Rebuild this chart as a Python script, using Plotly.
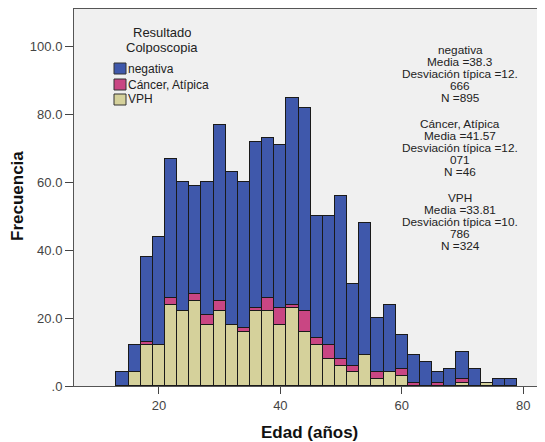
import plotly.graph_objects as go

# Bin centres (2-year bins from 13 to 79)
edad = [14, 16, 18, 20, 22, 24, 26, 28, 30, 32, 34, 36, 38, 40, 42, 44, 46,
        48, 50, 52, 54, 56, 58, 60, 62, 64, 66, 68, 70, 72, 74, 76, 78]
vph = [0, 4, 12, 12, 24, 22, 25, 18, 22, 18, 16, 22, 22, 18, 23, 16, 12,
       8, 6, 4, 9, 2, 4, 3, 0, 0, 0, 0, 1, 0, 1, 0, 0]
cancer = [0, 0, 1, 0, 2, 0, 2, 3, 3, 0, 1, 1, 4, 5, 1, 6, 2,
          4, 2, 2, 0, 2, 0, 2, 1, 0, 1, 0, 1, 0, 0, 0, 0]
negativa = [4, 8, 25, 32, 41, 38, 32, 39, 52, 45, 43, 49, 47, 48, 61, 60, 36,
            38, 48, 24, 39, 16, 20, 10, 8, 7, 3, 5, 8, 5, 0, 2, 2]

series_names = ["VPH", "Cáncer, Atípica", "negativa"]
series_colors = ["#D5D19B", "#C94683", "#3F58AB"]

y_tickvals = [0, 20, 40, 60, 80, 100]
y_ticktext = [".0", "20.0", "40.0", "60.0", "80.0", "100.0"]
x_tickvals = [20, 40, 60, 80]

stats_lines = [
    ["negativa", "Media =38.3", "Desviación típica =12.", "666", "N =895"],
    ["Cáncer, Atípica", "Media =41.57", "Desviación típica =12.", "071", "N =46"],
    ["VPH", "Media =33.81", "Desviación típica =10.", "786", "N =324"],
]

# page body has an 8px margin: figure is placed at (8, 8) in the window
OX, OY = 8, 8
WIN_W, WIN_H = 545, 442
W, H = WIN_W - OX, WIN_H - OY
PLOT_L, PLOT_T, PLOT_B = 74, 9, 386          # window pixel coordinates
L, T, B, R = PLOT_L - OX, PLOT_T - OY, WIN_H - PLOT_B, 0
PW, PH = W - L - R, H - T - B


def px(x):
    return (x - PLOT_L) / PW


def py(y):
    return (PLOT_B - y) / PH


def nz(v):
    return [None if a == 0 else a for a in v]


fig = go.Figure()
for vals, name, col in zip([vph, cancer, negativa], series_names, series_colors):
    fig.add_trace(go.Bar(
        x=edad, y=nz(vals), width=2, name=name,
        marker=dict(color=col, line=dict(color="#1A1A1A", width=1)),
        showlegend=False,
    ))

font = "Liberation Sans, Arial, sans-serif"
ann = []
shapes = []


def text_ann(text, x, y, size, xanchor="center", box_h=None, color="#222", **kw):
    d = dict(text=text, x=px(x), y=py(y), xref="paper", yref="paper",
             showarrow=False, xanchor=xanchor, yanchor="middle", borderpad=0,
             font=dict(size=size, color=color, family=font), **kw)
    if box_h is not None:
        d["height"] = box_h
        d["valign"] = "middle"
    return d


# Legend (manual)
ann.append(text_ann("Resultado", 162, 32, 13, box_h=14))
ann.append(text_ann("Colposcopia", 162, 47, 13, box_h=14))
leg_items = [("negativa", "#3F58AB", 63), ("Cáncer, Atípica", "#C94683", 79), ("VPH", "#D5D19B", 94)]
for name, col, top in leg_items:
    shapes.append(dict(type="rect", xref="paper", yref="paper",
                       x0=px(114), x1=px(126), y0=py(top), y1=py(top + 11),
                       fillcolor=col, line=dict(color="#333", width=1)))
    ann.append(text_ann(name, 127, top + 5.5, 12, xanchor="left", box_h=14))

# Stats text
block_tops = [50, 124, 198]
for lines, top in zip(stats_lines, block_tops):
    for i, line in enumerate(lines):
        ann.append(text_ann(line, 460, top + 12 * i, 11.8))

# Axis titles
ann.append(text_ann("<b>Edad (años)</b>", 309, 432, 17, color="#111"))
ann.append(text_ann("<b>Frecuencia</b>", 17, 196, 17, color="#111", textangle=-90))

fig.update_layout(
    width=W, height=H,
    margin=dict(l=L, r=R, t=T, b=B, pad=0),
    barmode="stack",
    bargap=0,
    paper_bgcolor="white",
    plot_bgcolor="#F0F0F0",
    annotations=ann,
    shapes=shapes,
    font=dict(family=font),
)
fig.update_xaxes(range=[6, 83.6], tickvals=x_tickvals, ticks="outside", ticklen=7,
                 tickcolor="#444", showline=True, linecolor="#555", linewidth=1,
                 mirror=True, showgrid=False, zeroline=False,
                 tickfont=dict(size=13, color="#444", family=font))
fig.update_yaxes(range=[0, 111.1], tickvals=y_tickvals, ticktext=y_ticktext,
                 ticks="outside", ticklen=8, tickcolor="#444", showline=True,
                 linecolor="#555", linewidth=1, showgrid=False, zeroline=False,
                 tickfont=dict(size=13, color="#444", family=font))

fig.write_html("out.html")
